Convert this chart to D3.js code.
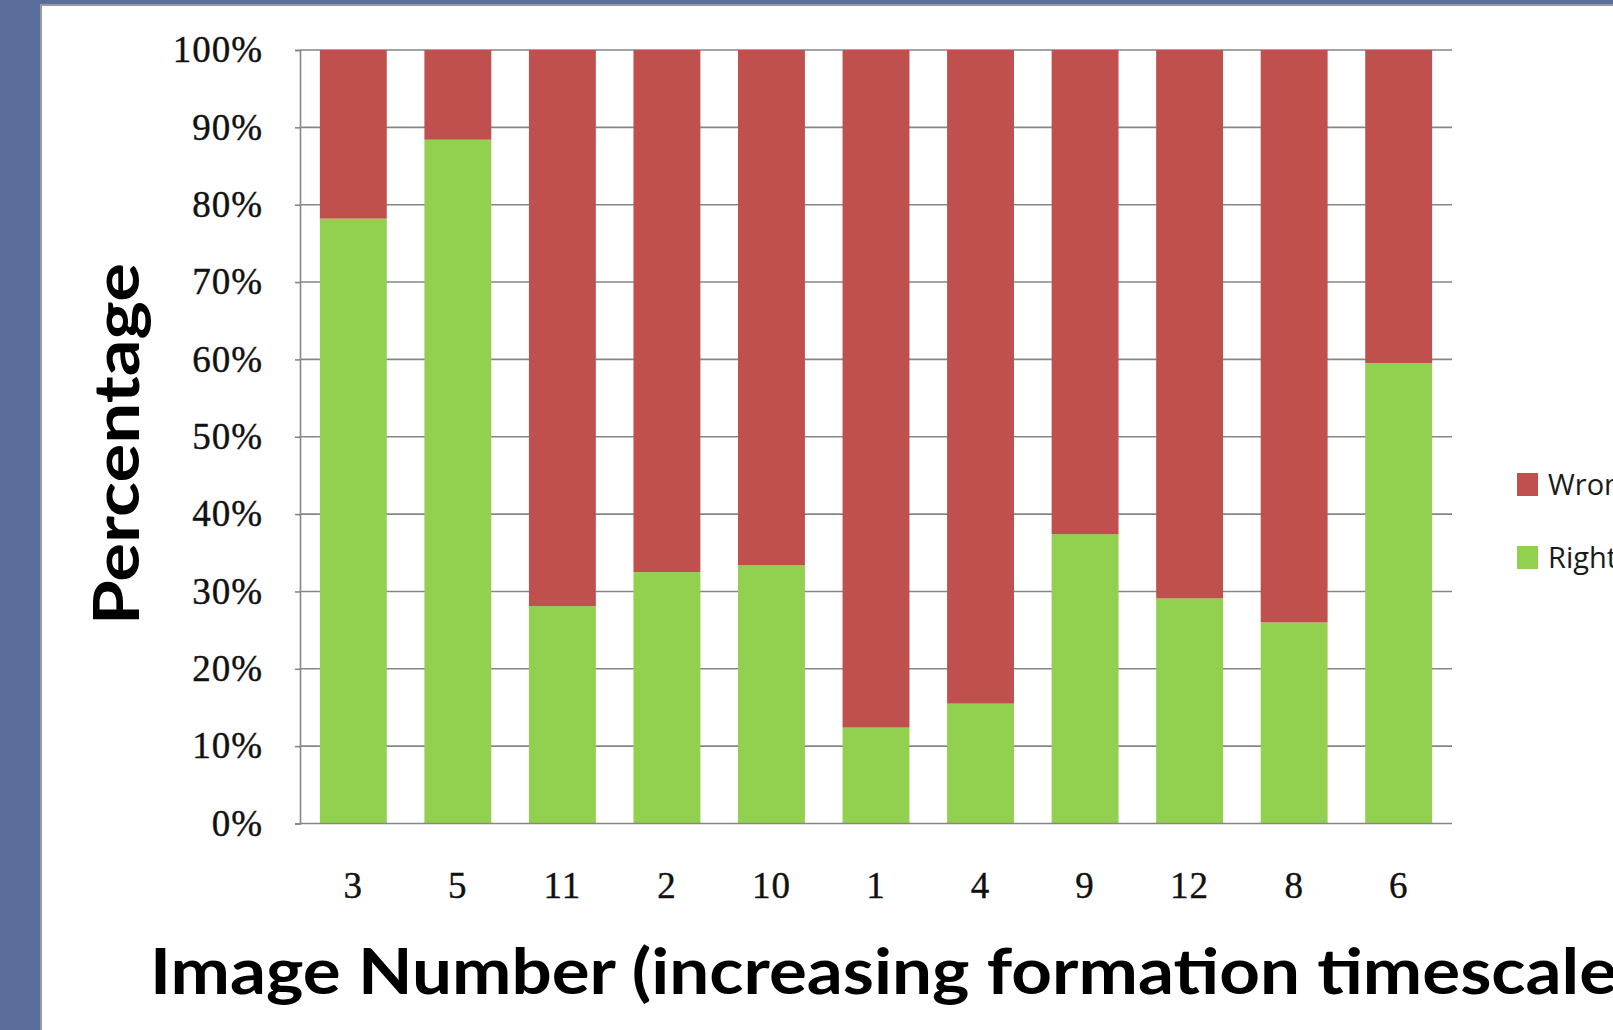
<!DOCTYPE html>
<html><head><meta charset="utf-8">
<script src="https://cdn.jsdelivr.net/npm/d3@7"></script>
<style>html,body{margin:0;padding:0;background:#5a6d9b;overflow:hidden}</style>
</head><body>
<svg id="c" width="1613" height="1030"></svg>
<script>
// ---- data ----
const categories = ["3","5","11","2","10","1","4","9","12","8","6"];
const rightPct = [78.2, 88.4, 28.1, 32.5, 33.4, 12.4, 15.5, 37.4, 29.1, 26.0, 59.5];
const wrongPct = [21.8, 11.6, 71.9, 67.5, 66.6, 87.6, 84.5, 62.6, 70.9, 74.0, 40.5];
const seriesNames = ["Right", "Wrong"];
const seriesColors = ["#92d050", "#c0504d"];
const legendOrder = ["Wrong", "Right"];
const yTickValues = [0, 10, 20, 30, 40, 50, 60, 70, 80, 90, 100];
const yTickLabels = ["0%","10%","20%","30%","40%","50%","60%","70%","80%","90%","100%"];
const xTitle = "Image Number (increasing formation timescale)";
const yTitle = "Percentage";

// ---- layout ----
const W = 1613, H = 1030;
const plot = {left: 300, right: 1452, top: 50, bottom: 823.5};
const svg = d3.select("#c");

svg.append("rect").attr("x",0).attr("y",0).attr("width",W).attr("height",H).attr("fill","#5a6d9b");
svg.append("rect").attr("x",41).attr("y",5).attr("width",W).attr("height",H)
   .attr("fill","#ffffff").attr("stroke","#9a9a9a").attr("stroke-width",2);

const x = d3.scaleBand().domain(categories).range([plot.left, plot.right])
  .paddingInner(0.36).paddingOuter(0.19);
const y = d3.scaleLinear().domain([0,100]).range([plot.bottom, plot.top]);

// gridlines
svg.append("g").selectAll("line").data(yTickValues.filter(v=>v>0)).join("line")
  .attr("x1", plot.left).attr("x2", plot.right)
  .attr("y1", d=>y(d)).attr("y2", d=>y(d))
  .attr("stroke","#868686").attr("stroke-width",1.6);

// stacked bars
const rows = categories.map((c,i)=>({cat:c, Right:rightPct[i], Wrong:wrongPct[i]}));
const stacked = d3.stack().keys(seriesNames)(rows);
const color = d3.scaleOrdinal().domain(seriesNames).range(seriesColors);
svg.append("g").selectAll("g").data(stacked).join("g")
  .attr("fill", d=>color(d.key))
  .selectAll("rect").data(d=>d).join("rect")
  .attr("x", d=>x(d.data.cat))
  .attr("width", x.bandwidth())
  .attr("y", d=>y(d[1]))
  .attr("height", d=>y(d[0]) - y(d[1]));

// y axis
const yAxis = d3.axisLeft(y).tickValues(yTickValues)
  .tickFormat((d,i)=>yTickLabels[i]).tickSize(5).tickPadding(32);
const gy = svg.append("g").attr("transform",`translate(${plot.left},0)`).call(yAxis);
gy.select(".domain").attr("stroke","#868686").attr("stroke-width",1.6);
gy.selectAll(".tick line").attr("stroke","#868686").attr("stroke-width",1.6);
gy.selectAll("text").attr("font-family","'Liberation Serif', 'Times New Roman', serif")
  .attr("font-size",37).attr("letter-spacing",1).attr("fill","#111")
  .attr("stroke","#111").attr("stroke-width",0.4);

// x axis
const xAxis = d3.axisBottom(x).tickSize(0).tickPadding(48);
const gx = svg.append("g").attr("transform",`translate(0,${plot.bottom})`).call(xAxis);
gx.select(".domain").attr("d", `M${plot.left},0H${plot.right}`).attr("stroke","#868686").attr("stroke-width",1.6);
gx.selectAll("text").attr("font-family","'Liberation Serif', 'Times New Roman', serif")
  .attr("font-size",37).attr("letter-spacing",1).attr("fill","#111")
  .attr("stroke","#111").attr("stroke-width",0.4);

// titles
svg.append("text").text(xTitle)
  .attr("x",150).attr("y",994)
  .attr("font-family","'Century Gothic', Lato, 'DejaVu Sans', sans-serif")
  .attr("font-weight","bold").attr("font-size",64).attr("fill","#000")
  .attr("textLength",1485).attr("lengthAdjust","spacingAndGlyphs");

svg.append("text").text(yTitle)
  .attr("transform","translate(139,625) rotate(-90)")
  .attr("font-family","'Century Gothic', Lato, 'DejaVu Sans', sans-serif")
  .attr("font-weight","bold").attr("font-size",63).attr("fill","#000")
  .attr("textLength",362).attr("lengthAdjust","spacingAndGlyphs");

// legend
const leg = svg.append("g").selectAll("g").data(legendOrder).join("g")
  .attr("transform",(d,i)=>`translate(1517,${473 + i*73})`);
leg.append("rect").attr("width",21).attr("height",23).attr("fill",d=>color(d));
leg.append("text").text(d=>d).attr("x",31).attr("y",22)
  .attr("font-family","'Open Sans', Lato, sans-serif").attr("font-size",29).attr("fill","#1a1a1a");
</script>
</body></html>
